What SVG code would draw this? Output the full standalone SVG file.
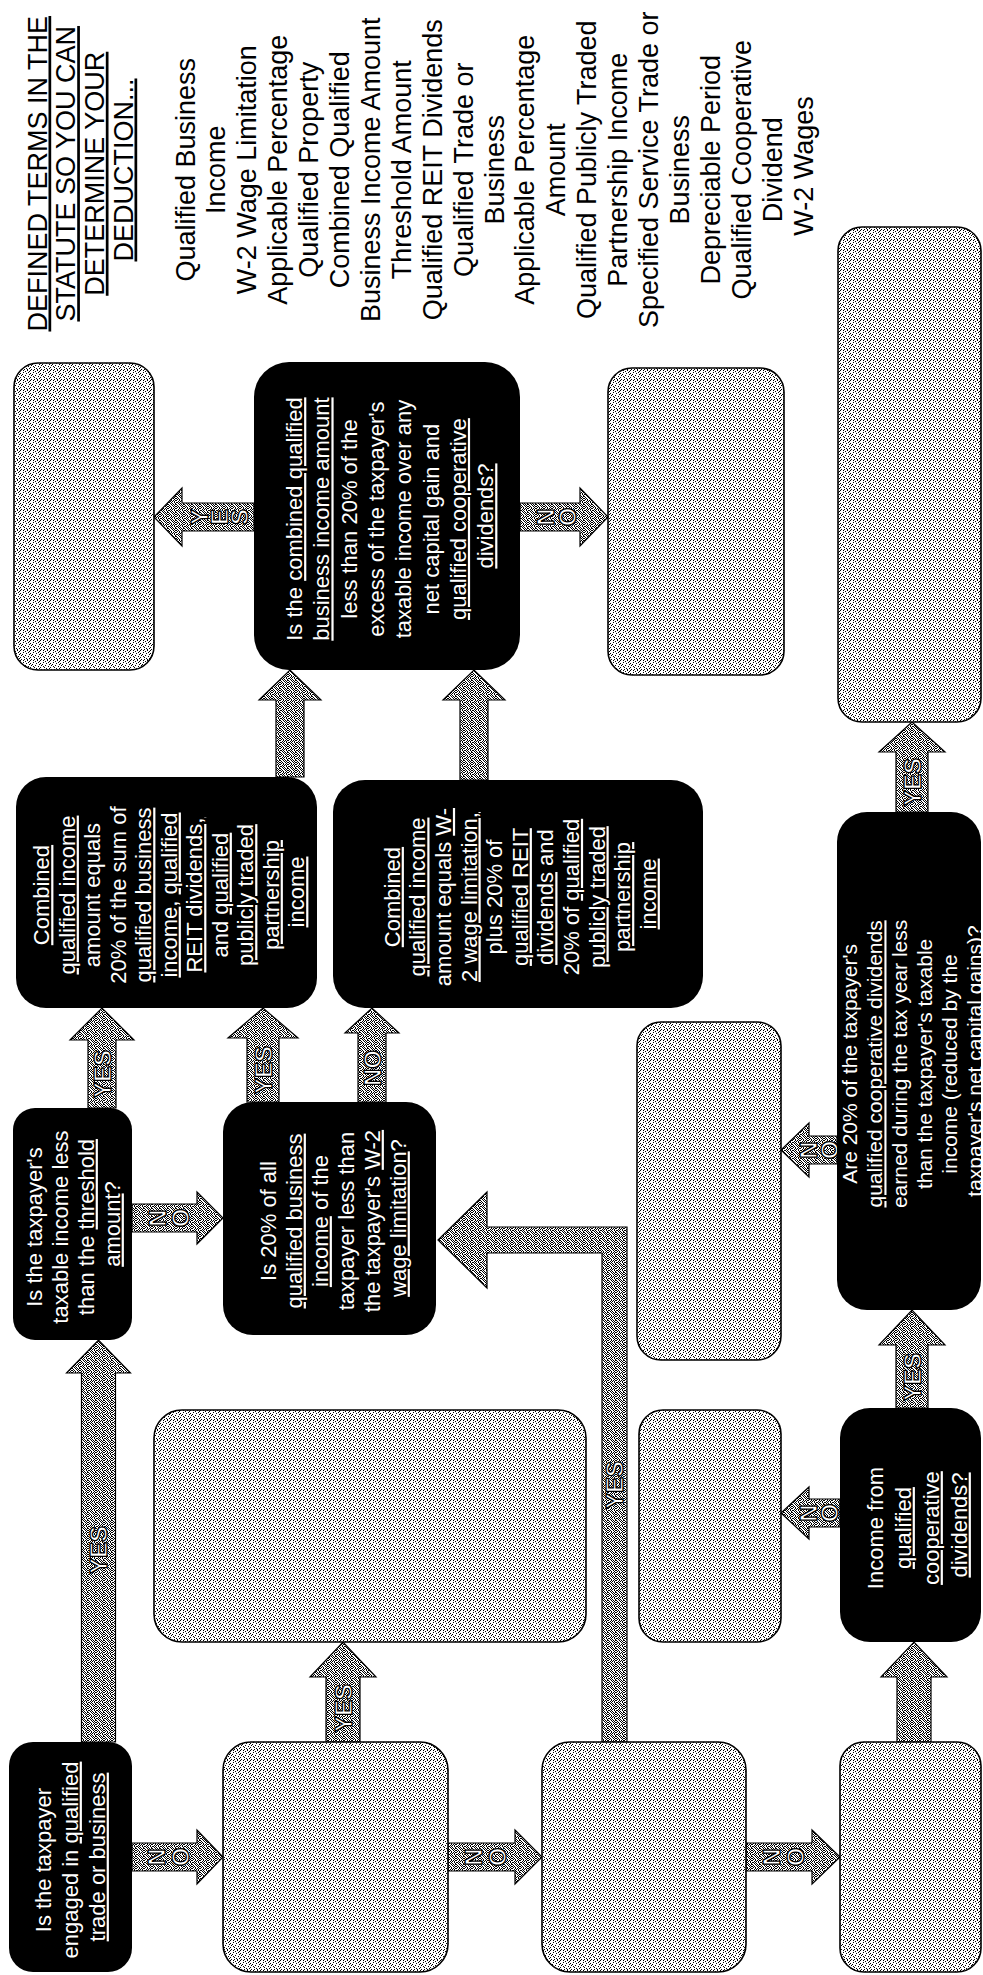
<svg xmlns="http://www.w3.org/2000/svg" width="983" height="1975" viewBox="0 0 983 1975">
<defs>
<pattern id="lt" width="10" height="10" patternUnits="userSpaceOnUse">
<rect width="10" height="10" fill="#fff"/>
<path fill="#000" d="M0 0h1v1h-1zM3 0h1v1h-1zM7 0h1v1h-1zM5 1h1v1h-1zM9 1h1v1h-1zM3 2h1v1h-1zM8 2h1v1h-1zM0 3h1v1h-1zM6 3h1v1h-1zM2 4h1v1h-1zM9 4h1v1h-1zM1 5h1v1h-1zM5 5h1v1h-1zM3 6h1v1h-1zM8 6h1v1h-1zM0 7h1v1h-1zM4 7h1v1h-1zM6 8h1v1h-1zM9 8h1v1h-1zM1 9h1v1h-1zM4 9h1v1h-1zM7 9h1v1h-1z"/>
</pattern>
<pattern id="dk" width="8" height="8" patternUnits="userSpaceOnUse">
<rect width="8" height="8" fill="#fff"/>
<path fill="#000" d="M0 0h1v1h-1zM3 0h1v1h-1zM5 0h1v1h-1zM7 0h1v1h-1zM1 1h1v1h-1zM4 1h1v1h-1zM6 1h1v1h-1zM0 2h1v1h-1zM2 2h1v1h-1zM5 2h1v1h-1zM7 2h1v1h-1zM1 3h1v1h-1zM3 3h1v1h-1zM6 3h1v1h-1zM0 4h1v1h-1zM3 4h1v1h-1zM5 4h1v1h-1zM7 4h1v1h-1zM2 5h1v1h-1zM4 5h1v1h-1zM6 5h1v1h-1zM0 6h1v1h-1zM1 6h1v1h-1zM3 6h1v1h-1zM6 6h1v1h-1zM2 7h1v1h-1zM4 7h1v1h-1zM7 7h1v1h-1z"/>
</pattern>
</defs>
<style>
text{font-family:"Liberation Sans",Arial,sans-serif}
.bn rect{fill:#000}
.gn rect{fill:url(#lt);stroke:#000;stroke-width:1.6}
.bt{fill:#fff;font-size:22px;text-anchor:middle}
.hd{fill:#000;font-size:27px;text-anchor:middle}
.u{text-decoration:underline}
.arr{fill:url(#dk);stroke:#000;stroke-width:1.2;stroke-linejoin:miter}
.lbl{fill:#fff;stroke:#000;stroke-width:1.3;font-size:24px;font-weight:bold;text-anchor:middle}
</style>
<rect width="983" height="1975" fill="#fff"/>

<g id="header">
<text class="hd" transform="translate(80,170) rotate(-90)">
<tspan class="u" x="0" y="-33.5">DEFINED TERMS IN THE</tspan>
<tspan class="u" x="0" y="-4.8">STATUTE SO YOU CAN</tspan>
<tspan class="u" x="0" y="23.8">DETERMINE YOUR</tspan>
<tspan class="u" x="0" y="52.5">DEDUCTION...</tspan>
</text>
</g>

<g id="terms">
<text class="hd" transform="translate(494,166) rotate(-90)">
<tspan x="0" y="-299.5">Qualified Business</tspan>
<tspan x="0" y="-268.6">Income</tspan>
<tspan x="0" y="-237.7">W-2 Wage Limitation</tspan>
<tspan x="0" y="-206.8">Applicable Percentage</tspan>
<tspan x="0" y="-175.9">Qualified Property</tspan>
<tspan x="0" y="-145">Combined Qualified</tspan>
<tspan x="0" y="-114.1">Business Income Amount</tspan>
<tspan x="0" y="-83.2">Threshold Amount</tspan>
<tspan x="0" y="-52.3">Qualified REIT Dividends</tspan>
<tspan x="0" y="-21.4">Qualified Trade or</tspan>
<tspan x="0" y="9.5">Business</tspan>
<tspan x="0" y="40.4">Applicable Percentage</tspan>
<tspan x="0" y="71.3">Amount</tspan>
<tspan x="0" y="102.2">Qualified Publicly Traded</tspan>
<tspan x="0" y="133.1">Partnership Income</tspan>
<tspan x="0" y="164">Specified Service Trade or</tspan>
<tspan x="0" y="194.9">Business</tspan>
<tspan x="0" y="225.8">Depreciable Period</tspan>
<tspan x="0" y="256.7">Qualified Cooperative</tspan>
<tspan x="0" y="287.6">Dividend</tspan>
<tspan x="0" y="318.5">W-2 Wages</tspan>
</text>
</g>

<g id="connectors">
<polygon class="arr" points="81.5,1742 81.5,1373 66.5,1373 98.5,1340 130.5,1373 115.5,1373 115.5,1742"/>
<polygon class="arr" points="88,1108 88,1040 70,1040 102,1008 134,1040 116,1040 116,1108"/>
<polygon class="arr" points="247,1102 247,1038 228,1038 263,1008 298,1038 279,1038 279,1102"/>
<polygon class="arr" points="358,1102 358,1033 345,1033 372,1008 399,1033 386,1033 386,1102"/>
<polygon class="arr" points="276,777 276,700 259,700 290,670 321,700 304,700 304,777"/>
<polygon class="arr" points="460,780 460,700 443,700 474,670 505,700 488,700 488,780"/>
<polygon class="arr" points="254,503 182,503 182,488 154,517 182,546 182,531 254,531"/>
<polygon class="arr" points="520,503 580,503 580,488 608,517 580,546 580,531 520,531"/>
<polygon class="arr" points="132,1204 197,1204 197,1192 223,1218 197,1244 197,1232 132,1232"/>
<polygon class="arr" points="132,1843 197,1843 197,1830 223,1857 197,1884 197,1871 132,1871"/>
<polygon class="arr" points="448,1843 515,1843 515,1830 542,1857 515,1884 515,1871 448,1871"/>
<polygon class="arr" points="746,1843 812,1843 812,1830 840,1857 812,1884 812,1871 746,1871"/>
<polygon class="arr" points="326,1742 326,1677 310,1677 343,1642 376,1677 360,1677 360,1742"/>
<polygon class="arr" points="602,1742 602,1253 487,1253 487,1288 438,1240 487,1192 487,1227 627,1227 627,1742"/>
<polygon class="arr" points="897,1742 897,1677 881,1677 914,1642 947,1677 931,1677 931,1742"/>
<polygon class="arr" points="840,1499 809,1499 809,1487 781,1513 809,1539 809,1527 840,1527"/>
<polygon class="arr" points="896,1408 896,1345 879,1345 912,1310 945,1345 928,1345 928,1408"/>
<polygon class="arr" points="837,1136 809,1136 809,1123 781,1150 809,1177 809,1164 837,1164"/>
<polygon class="arr" points="896,812 896,752 879,752 912,722 945,752 928,752 928,812"/>

<text class="lbl" transform="translate(98.5,1550) rotate(-90)" dy="8.5">YES</text>
<text class="lbl" transform="translate(102,1074) rotate(-90)" dy="8.5">YES</text>
<text class="lbl" transform="translate(263,1070) rotate(-90)" dy="8.5">YES</text>
<text class="lbl" transform="translate(372,1068) rotate(-90)" dy="8.5">NO</text>
<text class="lbl" transform="translate(199,517) rotate(-90)" dy="8.5">Y</text>
<text class="lbl" transform="translate(219,517) rotate(-90)" dy="8.5">E</text>
<text class="lbl" transform="translate(239,517) rotate(-90)" dy="8.5">S</text>
<text class="lbl" transform="translate(545,517) rotate(-90)" dy="8.5">N</text>
<text class="lbl" transform="translate(567,517) rotate(-90)" dy="8.5">O</text>
<text class="lbl" transform="translate(157,1218) rotate(-90)" dy="8.5">N</text>
<text class="lbl" transform="translate(180,1218) rotate(-90)" dy="8.5">O</text>
<text class="lbl" transform="translate(156,1857) rotate(-90)" dy="8.5">N</text>
<text class="lbl" transform="translate(180,1857) rotate(-90)" dy="8.5">O</text>
<text class="lbl" transform="translate(473,1857) rotate(-90)" dy="8.5">N</text>
<text class="lbl" transform="translate(497,1857) rotate(-90)" dy="8.5">O</text>
<text class="lbl" transform="translate(771,1857) rotate(-90)" dy="8.5">N</text>
<text class="lbl" transform="translate(795,1857) rotate(-90)" dy="8.5">O</text>
<text class="lbl" transform="translate(343,1708) rotate(-90)" dy="8.5">YES</text>
<text class="lbl" transform="translate(614.5,1485) rotate(-90)" dy="8.5">YES</text>
<text class="lbl" transform="translate(808,1513) rotate(-90)" dy="8.5">N</text>
<text class="lbl" transform="translate(829,1513) rotate(-90)" dy="8.5">O</text>
<text class="lbl" transform="translate(912,1377) rotate(-90)" dy="8.5">YES</text>
<text class="lbl" transform="translate(808,1150) rotate(-90)" dy="8.5">N</text>
<text class="lbl" transform="translate(829,1150) rotate(-90)" dy="8.5">O</text>
<text class="lbl" transform="translate(912,782) rotate(-90)" dy="8.5">YES</text>
</g>

<g id="n1" class="bn">
<rect x="9" y="1742" width="123" height="230" rx="24"/>
<text class="bt" transform="translate(70,1857) rotate(-90)">
<tspan x="0" y="-19.3">Is the taxpayer</tspan>
<tspan x="0" y="7.7">engaged in <tspan class="u">qualified</tspan></tspan>
<tspan x="0" y="34.7" class="u">trade or business</tspan>
</text>
</g>

<g id="n2" class="bn">
<rect x="13" y="1108" width="119" height="232" rx="22"/>
<text class="bt" transform="translate(73,1224) rotate(-90)">
<tspan x="0" y="-31.3">Is the taxpayer's</tspan>
<tspan x="0" y="-5.3">taxable income less</tspan>
<tspan x="0" y="20.7">than the <tspan class="u">threshold</tspan></tspan>
<tspan x="0" y="46.7"><tspan class="u">amount</tspan>?</tspan>
</text>
</g>

<g id="n3" class="bn">
<rect x="223" y="1102" width="213" height="233" rx="30"/>
<text class="bt" transform="translate(333,1218) rotate(-90)">
<tspan x="0" y="-57.3">Is 20% of all</tspan>
<tspan x="0" y="-31.3" class="u">qualified business</tspan>
<tspan x="0" y="-5.3"><tspan class="u">income</tspan> of the</tspan>
<tspan x="0" y="20.7">taxpayer less than</tspan>
<tspan x="0" y="46.7">the taxpayer's <tspan class="u">W-2</tspan></tspan>
<tspan x="0" y="72.7"><tspan class="u">wage limitation</tspan>?</tspan>
</text>
</g>

<g id="n4" class="bn">
<rect x="16" y="777" width="301" height="231" rx="30"/>
<text class="bt" transform="translate(169,892) rotate(-90)">
<tspan x="0" y="-119.8" class="u">Combined</tspan>
<tspan x="0" y="-94.3" class="u">qualified income</tspan>
<tspan x="0" y="-68.8">amount equals</tspan>
<tspan x="0" y="-43.3">20% of the sum of</tspan>
<tspan x="0" y="-17.8" class="u">qualified business</tspan>
<tspan x="0" y="7.7"><tspan class="u">income</tspan>, <tspan class="u">qualified</tspan></tspan>
<tspan x="0" y="33.2" class="u">REIT dividends,</tspan>
<tspan x="0" y="58.7">and <tspan class="u">qualified</tspan></tspan>
<tspan x="0" y="84.2" class="u">publicly traded</tspan>
<tspan x="0" y="109.7" class="u">partnership</tspan>
<tspan x="0" y="135.2" class="u">income</tspan>
</text>
</g>

<g id="n5" class="bn">
<rect x="333" y="780" width="370" height="228" rx="32"/>
<text class="bt" transform="translate(520,894) rotate(-90)">
<tspan x="0" y="-120.3" class="u">Combined</tspan>
<tspan x="0" y="-94.7" class="u">qualified income</tspan>
<tspan x="0" y="-69.1">amount equals <tspan class="u">W-</tspan></tspan>
<tspan x="0" y="-43.5" class="u">2 wage limitation,</tspan>
<tspan x="0" y="-17.9">plus 20% of</tspan>
<tspan x="0" y="7.7" class="u">qualified REIT</tspan>
<tspan x="0" y="33.3"><tspan class="u">dividends</tspan> and</tspan>
<tspan x="0" y="58.9">20% of <tspan class="u">qualified</tspan></tspan>
<tspan x="0" y="84.5" class="u">publicly traded</tspan>
<tspan x="0" y="110.1" class="u">partnership</tspan>
<tspan x="0" y="135.7" class="u">income</tspan>
</text>
</g>

<g id="n6" class="bn">
<rect x="254" y="362" width="266" height="308" rx="35"/>
<text class="bt" transform="translate(390,516) rotate(-90)">
<tspan x="0" y="-87.9">Is the <tspan class="u">combined qualified</tspan></tspan>
<tspan x="0" y="-60.6" class="u">business income amount</tspan>
<tspan x="0" y="-33.3">less than 20% of the</tspan>
<tspan x="0" y="-6">excess of the taxpayer's</tspan>
<tspan x="0" y="21.3">taxable income over any</tspan>
<tspan x="0" y="48.6">net capital gain and</tspan>
<tspan x="0" y="75.9" class="u">qualified cooperative</tspan>
<tspan x="0" y="103.2" class="u">dividends?</tspan>
</text>
</g>

<g id="n8" class="bn">
<rect x="837" y="812" width="144" height="498" rx="30"/>
<text class="bt" style="font-size:21px" transform="translate(912,1061) rotate(-90)">
<tspan x="0" y="-54.6">Are 20% of the taxpayer's</tspan>
<tspan x="0" y="-29.6" class="u">qualified cooperative dividends</tspan>
<tspan x="0" y="-4.6">earned during the tax year less</tspan>
<tspan x="0" y="20.4">than the taxpayer's taxable</tspan>
<tspan x="0" y="45.4">income (reduced by the</tspan>
<tspan x="0" y="70.4">taxpayer's net capital gains)?</tspan>
</text>
</g>

<g id="n9" class="bn">
<rect x="840" y="1408" width="141" height="234" rx="30"/>
<text class="bt" transform="translate(917,1525) rotate(-90)">
<tspan x="0" y="-34.3">Income from</tspan>
<tspan x="0" y="-6.3" class="u">qualified</tspan>
<tspan x="0" y="21.7" class="u">cooperative</tspan>
<tspan x="0" y="49.7" class="u">dividends?</tspan>
</text>
</g>

<g id="g1" class="gn"><rect x="14" y="363" width="140" height="307" rx="24"/></g>
<g id="g2" class="gn"><rect x="608" y="368" width="176" height="307" rx="24"/></g>
<g id="g3" class="gn"><rect x="838" y="227" width="143" height="495" rx="24"/></g>
<g id="g4" class="gn"><rect x="637" y="1022" width="144" height="338" rx="24"/></g>
<g id="g5" class="gn"><rect x="639" y="1410" width="142" height="232" rx="24"/></g>
<g id="g6" class="gn"><rect x="154" y="1410" width="432" height="232" rx="28"/></g>
<g id="g7" class="gn"><rect x="223" y="1742" width="225" height="230" rx="28"/></g>
<g id="g8" class="gn"><rect x="542" y="1742" width="204" height="230" rx="28"/></g>
<g id="g9" class="gn"><rect x="840" y="1742" width="141" height="230" rx="24"/></g>
</svg>
